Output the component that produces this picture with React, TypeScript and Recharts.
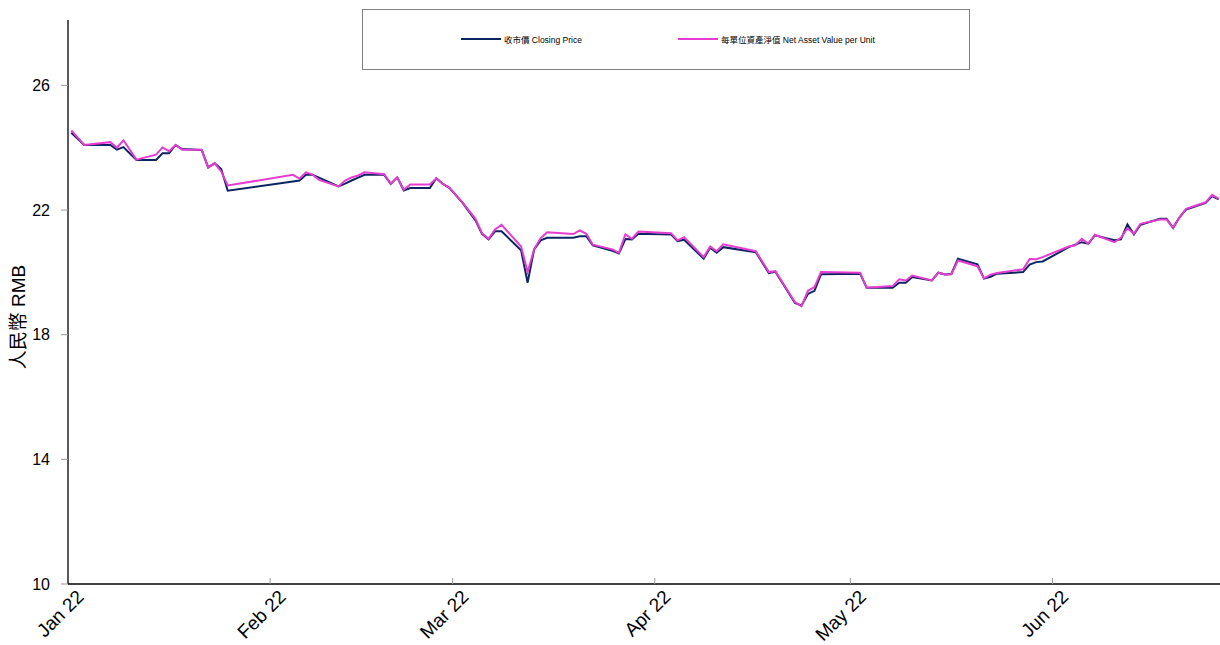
import { LineChart, Line, XAxis, YAxis, Legend } from "recharts";

// trading dates in 2022 (MM-DD)
const dates = [
  // Jan
  "01-01", "01-03", "01-07", "01-08", "01-09", "01-11", "01-14", "01-15",
  "01-16", "01-17", "01-18", "01-21", "01-22", "01-23", "01-24", "01-25",
  // Feb
  "02-04", "02-05", "02-06", "02-07", "02-08", "02-11", "02-12", "02-13", "02-14",
  "02-15", "02-18", "02-19", "02-20", "02-21", "02-22", "02-25", "02-26", "02-27", "02-28",
  // Mar
  "03-02", "03-04", "03-05", "03-06", "03-07", "03-08", "03-11", "03-12", "03-13", "03-14",
  "03-15", "03-19", "03-20", "03-21", "03-22", "03-25", "03-26", "03-27", "03-28", "03-29",
  // Apr
  "04-03", "04-04", "04-05", "04-08", "04-09", "04-10", "04-11", "04-16",
  "04-18", "04-19", "04-22", "04-23", "04-24", "04-25", "04-26",
  // May
  "05-02", "05-03", "05-07", "05-08", "05-09", "05-10", "05-13", "05-14", "05-15", "05-16",
  "05-17", "05-20", "05-21", "05-22", "05-23", "05-27", "05-28", "05-29", "05-30",
  // Jun
  "06-03", "06-04", "06-05", "06-06", "06-07", "06-10", "06-11", "06-12", "06-13",
  "06-14", "06-17", "06-18", "06-19", "06-20", "06-21", "06-24", "06-25", "06-26",
];

const closePrice = [
  24.48, 24.09, 24.09, 23.94, 24.02, 23.61, 23.61, 23.82,
  23.82, 24.09, 23.96, 23.93, 23.37, 23.5, 23.32, 22.62,
  22.92, 22.95, 23.13, 23.13, 23.04, 22.76, 22.85, 22.95, 23.04,
  23.13, 23.13, 22.84, 23.05, 22.63, 22.71, 22.71, 23.02, 22.84, 22.71,
  22.24, 21.67, 21.24, 21.06, 21.32, 21.32, 20.71, 19.67, 20.74, 21.03,
  21.11, 21.11, 21.16, 21.16, 20.87, 20.69, 20.61, 21.07, 21.06, 21.24,
  21.22, 21.0, 21.05, 20.44, 20.79, 20.63, 20.81, 20.65,
  19.98, 20.02, 19.02, 18.94, 19.31, 19.41, 19.94,
  19.96, 19.51, 19.51, 19.67, 19.67, 19.85, 19.74, 19.99, 19.93, 19.95,
  20.44, 20.26, 19.8, 19.86, 19.96, 20.01, 20.25, 20.33, 20.35,
  20.81, 20.89, 20.97, 20.92, 21.19, 21.03, 21.06, 21.54, 21.22,
  21.53, 21.72, 21.72, 21.43, 21.77, 22.02, 22.23, 22.45, 22.34,
];

const navPerUnit = [
  24.56, 24.09, 24.18, 24.0, 24.24, 23.62, 23.78, 24.01,
  23.89, 24.09, 23.94, 23.94, 23.37, 23.5, 23.24, 22.79,
  23.13, 23.01, 23.21, 23.14, 22.97, 22.76, 22.95, 23.05, 23.11,
  23.21, 23.15, 22.84, 23.05, 22.65, 22.82, 22.82, 23.02, 22.84, 22.72,
  22.25, 21.72, 21.26, 21.08, 21.38, 21.53, 20.83, 20.01, 20.74, 21.1,
  21.29, 21.23, 21.35, 21.24, 20.89, 20.74, 20.63, 21.22, 21.08, 21.31,
  21.26, 21.03, 21.13, 20.49, 20.83, 20.68, 20.9, 20.68,
  20.01, 20.04, 19.05, 18.91, 19.41, 19.53, 20.01,
  19.99, 19.51, 19.56, 19.78, 19.74, 19.9, 19.74, 19.99, 19.93, 19.94,
  20.38, 20.2, 19.81, 19.93, 19.98, 20.1, 20.43, 20.42, 20.49,
  20.83, 20.87, 21.08, 20.92, 21.21, 20.97, 21.11, 21.42, 21.24,
  21.56, 21.7, 21.7, 21.43, 21.77, 22.04, 22.25, 22.49, 22.36,
];

const monthLabels = ["Jan 22", "Feb 22", "Mar 22", "Apr 22", "May 22", "Jun 22"];
const monthStarts = ["01-01", "02-01", "03-01", "04-01", "05-01", "06-01"];
const yTicks = [10, 14, 18, 22, 26];

const DAY = 86400000;
const START = Date.UTC(2022, 0, 1);
const dayOf = (md: string) => {
  const [m, d] = md.split("-").map(Number);
  return (Date.UTC(2022, m - 1, d) - START) / DAY;
};

// each daily point sits at midday
const data = dates.map((d, i) => ({
  t: dayOf(d) + 0.5,
  close: closePrice[i],
  nav: navPerUnit[i],
}));
const monthTicks = monthStarts.map(dayOf);

const FONT = "'Liberation Sans', Arial, 'Noto Sans CJK TC', sans-serif";
const NAVY = "#0b2462";
const MAGENTA = "#e63cd2";

function MonthTick(props: any) {
  const { x, y, payload } = props;
  const idx = monthTicks.indexOf(payload.value);
  const tx = x + 17;
  const ty = y + 14;
  return (
    <g>
      {idx > 0 && <line x1={x} y1={y} x2={x} y2={y - 6} stroke="#999" />}
      <text
        x={tx}
        y={ty}
        textAnchor="end"
        fontSize={19}
        fontFamily={FONT}
        fill="#000"
        transform={`rotate(-45 ${tx} ${ty})`}
      >
        {monthLabels[idx]}
      </text>
    </g>
  );
}

function YLabel(props: any) {
  const vb = props.viewBox || { x: 0, y: 20, height: 564 };
  const x = vb.x + 18;
  const y = vb.y + vb.height / 2 + 15;
  return (
    <text
      x={x}
      y={y}
      textAnchor="middle"
      dominantBaseline="central"
      fontSize={19}
      fontFamily={FONT}
      fill="#000"
      transform={`rotate(-90 ${x} ${y})`}
    >
      人民幣 RMB
    </text>
  );
}

function LegendBox() {
  const item = (left: number, color: string, label: string) => (
    <div style={{ position: "absolute", left, top: 23, display: "flex", alignItems: "center" }}>
      <div style={{ width: 40, height: 2, background: color, marginRight: 3 }} />
      <span style={{ fontSize: 8.5, fontFamily: FONT, color: "#000", whiteSpace: "nowrap" }}>{label}</span>
    </div>
  );
  return (
    <div
      style={{
        position: "relative",
        width: 606,
        height: 59,
        border: "1px solid #808080",
        background: "#fff",
      }}
    >
      {item(98, NAVY, "收市價 Closing Price")}
      {item(315, MAGENTA, "每單位資產淨值 Net Asset Value per Unit")}
    </div>
  );
}

export default function App() {
  return (
    <div style={{ position: "absolute", left: 0, top: 0, width: 1220, height: 645, background: "#fff" }}>
      <LineChart width={1220} height={645} data={data} margin={{ top: 20, right: 0, bottom: 0, left: 0 }}>
        <XAxis
          dataKey="t"
          type="number"
          domain={[0, 176.7]}
          allowDataOverflow
          ticks={monthTicks}
          interval={0}
          height={61}
          tickSize={0}
          tickMargin={0}
          tickLine={false}
          axisLine={{ stroke: "#000", strokeWidth: 1.3 }}
          tick={<MonthTick />}
        />
        <YAxis
          type="number"
          domain={[10, 28.1]}
          allowDataOverflow
          ticks={yTicks}
          interval={0}
          width={68}
          tickSize={7}
          tickMargin={11}
          tickLine={{ stroke: "#999" }}
          axisLine={{ stroke: "#000", strokeWidth: 1.3 }}
          tick={{ fill: "#000", fontSize: 16, fontFamily: FONT }}
          label={<YLabel />}
        />
        <Legend
          layout="horizontal"
          verticalAlign="middle"
          align="center"
          wrapperStyle={{ top: 9, left: 362, width: 608, height: 61 }}
          content={() => <LegendBox />}
        />
        <Line
          dataKey="close"
          name="收市價 Closing Price"
          type="linear"
          stroke={NAVY}
          strokeWidth={2}
          dot={false}
          isAnimationActive={false}
        />
        <Line
          dataKey="nav"
          name="每單位資產淨值 Net Asset Value per Unit"
          type="linear"
          stroke={MAGENTA}
          strokeWidth={2}
          dot={false}
          isAnimationActive={false}
        />
      </LineChart>
    </div>
  );
}
